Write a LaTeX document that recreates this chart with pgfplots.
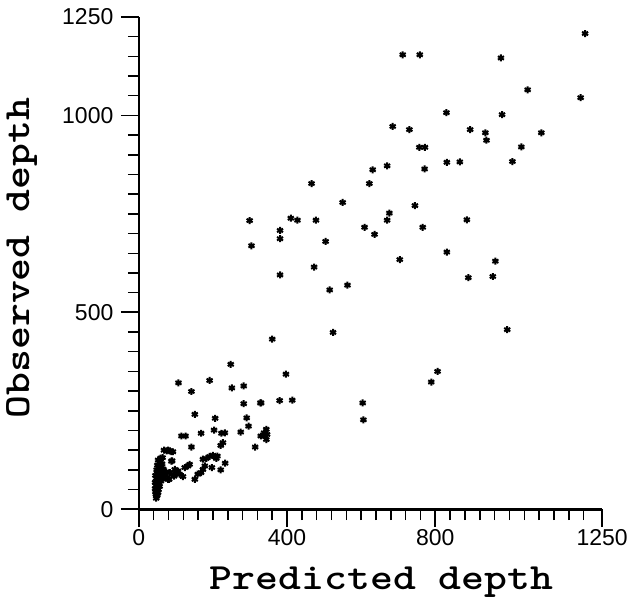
\documentclass[border=0pt]{standalone}
\usepackage{fontspec}
\setmainfont{Liberation Sans}
\usepackage{graphicx}
\usepackage{pgfplots}
\pgfplotsset{compat=1.18}

\begin{document}
\begin{tikzpicture}
\begin{axis}[
  width=464pt, height=493pt, scale only axis,
  xmin=0, xmax=1250, ymin=0, ymax=1250,
  axis x line=bottom, axis y line=left,
  axis line style={-, line width=2.6pt},
  xtick={0,400,800,1250}, ytick={0,500,1000,1250},
  minor xtick={40,80,...,1200}, minor ytick={50,100,...,1200},
  xtick pos=bottom, ytick pos=left,
  xtick align=outside, ytick align=outside,
  tickwidth=18pt, subtickwidth=11pt,
  major tick style={black, line width=1.8pt},
  minor tick style={black, line width=1.5pt},
  tick label style={font=\fontsize{23}{23}\selectfont},
  xticklabel style={yshift=1pt},
  yticklabel style={xshift=-4pt},
  /pgf/number format/assume math mode=true,
  /pgf/number format/1000 sep={},
  xlabel={\scalebox{1.18}[1]{Predicted depth}},
  ylabel={\scalebox{1.18}[1]{Observed depth}},
  every axis x label/.style={at={(axis description cs:0.524,-0.148)},
    anchor=center, font=\ttfamily\bfseries\fontsize{37}{37}\selectfont},
  every axis y label/.style={at={(axis description cs:-0.252,0.51)},
    anchor=center, rotate=90, font=\ttfamily\bfseries\fontsize{37}{37}\selectfont},
  clip=false
]
\path (rel axis cs:-0.2996,-0.1744) rectangle (rel axis cs:1.0603,1.0345);
\addplot[only marks, mark=asterisk, mark size=3.5pt,
  mark options={line width=2pt, black}] coordinates {
  % dense cluster near origin
  (47,28) (48,33) (46,38) (50,36) (45,44) (49,47) (52,42) (44,52) (48,55)
  (53,50) (46,60) (51,63) (56,58) (44,68) (49,71) (55,67) (60,72) (47,78)
  (52,80) (58,77) (63,84) (45,86) (50,90) (56,93) (62,96) (48,100) (54,104)
  (60,108) (66,102) (50,112) (57,118) (63,115) (52,125) (59,130) (70,88)
  (74,95) (68,80)
  (64,131) (75,148) (84,148) (92,146) (88,122) (97,101) (102,93) (106,97)
  (110,89) (88,89) (82,76) (79,76) (95,84) (119,83) (84,93)
  (68,150) (79,150) (88,146) (90,123) (59,127)
  % low band
  (124,106) (133,110) (137,114) (173,127) (182,129) (191,134) (200,137)
  (209,129) (212,135) (233,117) (221,100) (197,106) (178,110) (173,101)
  (168,93) (159,89) (151,76) (102,90)
  (107,321) (191,327) (251,308) (283,313) (142,299) (248,368) (283,268)
  (328,270) (151,241) (206,231) (291,232) (296,211) (203,201) (275,196)
  (115,186) (126,186) (168,193) (223,193) (232,194) (227,169) (221,162)
  (142,158) (314,158) (329,186) (338,194) (344,203) (346,190) (344,177)
  (340,186)
  % middle
  (360,432) (397,343) (330,270) (380,276) (414,277) (604,270) (606,227)
  (806,350) (789,323) (524,449) (994,456)
  (299,733) (381,708) (381,687) (304,669) (381,595) (410,739) (428,734)
  (478,734) (466,827) (622,827) (550,779) (676,752) (670,734) (745,771)
  (609,716) (636,698) (766,716) (885,735) (504,680) (473,615) (704,634)
  (831,653) (962,630) (889,588) (955,591) (515,557) (563,569)
  % upper
  (1204,1208) (712,1154) (758,1154) (977,1146) (1049,1065) (1192,1045)
  (830,1007) (980,1002) (685,972) (730,964) (894,964) (935,956) (938,937)
  (1086,956) (757,919) (772,919) (1032,920) (831,881) (866,882) (1008,883)
  (631,862) (670,872) (771,864)
};
\end{axis}
\end{tikzpicture}
\end{document}
